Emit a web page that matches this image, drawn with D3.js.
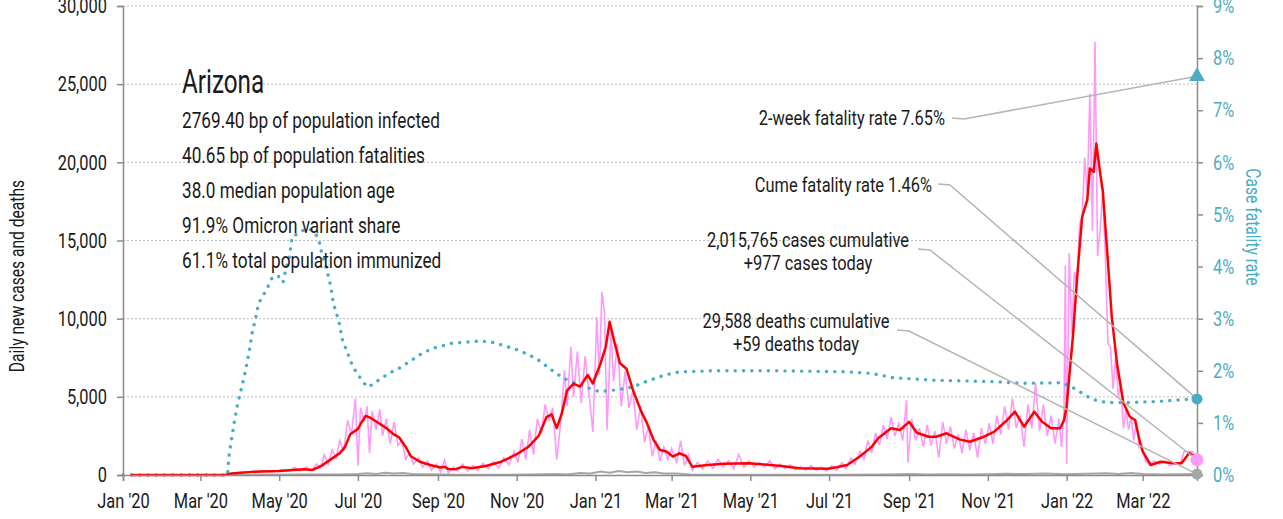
<!DOCTYPE html>
<html>
<head>
<meta charset="utf-8">
<script src="https://cdn.jsdelivr.net/npm/d3@7"></script>
<style>
  body { margin: 0; background: #fff; }
  svg text { font-family: "Liberation Sans Narrow", "Roboto", sans-serif; fill: #1a1a1a; }
</style>
</head>
<body>
<svg id="chart" width="1283" height="519"></svg>
<script>
// 7-day average of new cases (red)
const avgCases = [
  ["2020-01-07",0],["2020-03-20",0],["2020-03-25",100],["2020-04-10",200],["2020-05-01",250],
  ["2020-05-20",370],["2020-05-27",320],["2020-06-03",600],["2020-06-10",1000],["2020-06-17",1400],
  ["2020-06-21",1800],["2020-06-25",2600],["2020-07-01",2950],["2020-07-04",3400],["2020-07-07",3780],
  ["2020-07-11",3650],["2020-07-17",3330],["2020-07-23",3000],["2020-07-28",2650],["2020-08-02",2400],
  ["2020-08-07",1800],["2020-08-11",1200],["2020-08-18",850],["2020-08-26",640],["2020-09-03",480],
  ["2020-09-06",530],["2020-09-09",380],["2020-09-14",360],["2020-09-20",520],["2020-09-27",430],
  ["2020-10-08",580],["2020-10-20",850],["2020-10-31",1280],["2020-11-10",1800],["2020-11-18",2500],
  ["2020-11-24",3700],["2020-11-28",3880],["2020-12-02",3000],["2020-12-06",3950],["2020-12-10",5400],
  ["2020-12-15",5850],["2020-12-20",5650],["2020-12-26",6400],["2020-12-30",5850],["2021-01-05",7150],
  ["2021-01-09",8200],["2021-01-12",9800],["2021-01-16",8400],["2021-01-20",7150],["2021-01-25",6800],
  ["2021-01-30",5450],["2021-02-05",4150],["2021-02-10",3300],["2021-02-15",2250],["2021-02-20",1600],
  ["2021-02-25",1500],["2021-03-02",1180],["2021-03-07",1390],["2021-03-12",1220],["2021-03-17",530],
  ["2021-03-27",620],["2021-04-10",720],["2021-04-30",750],["2021-05-25",580],["2021-06-08",430],
  ["2021-06-30",400],["2021-07-07",500],["2021-07-15",640],["2021-07-25",1200],["2021-08-03",1800],
  ["2021-08-08",2350],["2021-08-18",2990],["2021-08-25",2880],["2021-09-01",3400],["2021-09-07",2700],
  ["2021-09-16",2450],["2021-09-22",2450],["2021-09-30",2670],["2021-10-10",2280],["2021-10-18",2130],
  ["2021-10-29",2450],["2021-11-06",2770],["2021-11-16",3520],["2021-11-22",4050],["2021-11-29",3090],
  ["2021-12-07",4050],["2021-12-13",3410],["2021-12-20",2990],["2021-12-27",2990],["2021-12-30",3500],
  ["2022-01-01",4400],["2022-01-04",7150],["2022-01-06",9000],["2022-01-09",12500],["2022-01-13",16500],
  ["2022-01-17",17600],["2022-01-19",19600],["2022-01-22",19400],["2022-01-24",21200],["2022-01-27",19300],
  ["2022-01-29",18200],["2022-02-01",14800],["2022-02-05",10100],["2022-02-09",7150],["2022-02-14",4600],
  ["2022-02-19",3730],["2022-02-23",3520],["2022-02-27",2030],["2022-03-01",1500],["2022-03-07",640],
  ["2022-03-15",850],["2022-03-25",750],["2022-03-31",750],["2022-04-06",1400],["2022-04-12",1070]
];

// daily new cases (pink)
const dailyCases = [
  ["2020-01-22",0],["2020-03-20",0],["2020-03-27",120],["2020-04-05",220],["2020-04-12",150],["2020-04-19",280],
  ["2020-04-26",200],["2020-05-03",330],["2020-05-08",250],["2020-05-13",480],["2020-05-17",260],["2020-05-22",520],
  ["2020-05-26",300],["2020-05-30",700],["2020-06-02",450],["2020-06-05",1300],["2020-06-08",700],["2020-06-11",1600],
  ["2020-06-14",1100],["2020-06-17",2200],["2020-06-20",1500],["2020-06-23",3500],["2020-06-26",2600],["2020-06-29",4900],
  ["2020-07-01",600],["2020-07-03",4300],["2020-07-06",3400],["2020-07-08",4400],["2020-07-10",1400],["2020-07-12",4100],
  ["2020-07-15",2900],["2020-07-18",4200],["2020-07-20",2500],["2020-07-23",3600],["2020-07-26",2000],["2020-07-29",3400],
  ["2020-08-01",1900],["2020-08-04",2200],["2020-08-07",1000],["2020-08-10",1400],["2020-08-13",700],["2020-08-17",1100],
  ["2020-08-20",500],["2020-08-24",900],["2020-08-27",300],["2020-08-31",700],["2020-09-03",200],["2020-09-06",950],
  ["2020-09-09",150],["2020-09-13",500],["2020-09-16",250],["2020-09-20",700],["2020-09-24",250],["2020-09-28",600],
  ["2020-10-02",300],["2020-10-06",750],["2020-10-10",400],["2020-10-14",850],["2020-10-18",450],["2020-10-22",1100],
  ["2020-10-26",650],["2020-10-30",1500],["2020-11-02",800],["2020-11-05",2300],["2020-11-08",1000],["2020-11-11",2900],
  ["2020-11-14",1300],["2020-11-17",3600],["2020-11-20",2700],["2020-11-23",4500],["2020-11-26",3500],["2020-11-29",4300],
  ["2020-12-02",1000],["2020-12-05",3300],["2020-12-08",6700],["2020-12-10",4400],["2020-12-13",8200],["2020-12-15",5000],
  ["2020-12-18",7900],["2020-12-21",4600],["2020-12-24",7600],["2020-12-27",5200],["2020-12-30",2750],["2021-01-02",10100],
  ["2021-01-04",6400],["2021-01-06",11700],["2021-01-08",10400],["2021-01-10",2900],["2021-01-13",9300],["2021-01-15",6000],
  ["2021-01-18",8400],["2021-01-21",4400],["2021-01-24",6600],["2021-01-27",4300],["2021-01-30",5400],["2021-02-02",2900],
  ["2021-02-05",4400],["2021-02-08",2100],["2021-02-11",3100],["2021-02-14",1200],["2021-02-17",2200],["2021-02-20",900],
  ["2021-02-23",1800],["2021-02-26",1000],["2021-03-01",1700],["2021-03-05",800],["2021-03-08",2200],["2021-03-11",600],
  ["2021-03-14",1300],["2021-03-17",300],["2021-03-21",800],["2021-03-25",400],["2021-03-29",900],["2021-04-02",400],
  ["2021-04-06",1000],["2021-04-10",500],["2021-04-14",900],["2021-04-18",400],["2021-04-22",1300],["2021-04-26",500],
  ["2021-04-30",900],["2021-05-04",500],["2021-05-08",800],["2021-05-12",500],["2021-05-16",900],["2021-05-20",400],
  ["2021-05-24",700],["2021-05-28",400],["2021-06-01",650],["2021-06-05",350],["2021-06-09",550],["2021-06-13",300],
  ["2021-06-17",600],["2021-06-21",300],["2021-06-25",500],["2021-06-29",250],["2021-07-03",600],["2021-07-07",300],
  ["2021-07-11",800],["2021-07-14",400],["2021-07-18",1100],["2021-07-21",700],["2021-07-25",1500],["2021-07-28",1000],
  ["2021-07-31",2200],["2021-08-03",1400],["2021-08-06",2700],["2021-08-09",1900],["2021-08-12",3200],["2021-08-15",2300],
  ["2021-08-18",3700],["2021-08-21",2500],["2021-08-24",3300],["2021-08-27",2200],["2021-08-30",4800],["2021-08-31",800],
  ["2021-09-03",3600],["2021-09-06",2200],["2021-09-09",3000],["2021-09-12",1800],["2021-09-15",3200],["2021-09-18",1900],
  ["2021-09-21",2800],["2021-09-24",1100],["2021-09-27",3400],["2021-09-30",2000],["2021-10-03",3100],["2021-10-06",1700],
  ["2021-10-09",2600],["2021-10-12",1400],["2021-10-15",2900],["2021-10-18",1600],["2021-10-21",2700],["2021-10-24",1100],
  ["2021-10-27",3000],["2021-10-30",2000],["2021-11-02",3300],["2021-11-05",2000],["2021-11-08",3800],["2021-11-11",2600],
  ["2021-11-14",4400],["2021-11-17",2900],["2021-11-20",4900],["2021-11-23",3000],["2021-11-26",3800],["2021-11-29",1800],
  ["2021-12-02",4500],["2021-12-05",3000],["2021-12-08",5900],["2021-12-11",2800],["2021-12-14",4500],["2021-12-17",2500],
  ["2021-12-20",3800],["2021-12-23",2000],["2021-12-26",3600],["2021-12-28",1800],["2021-12-30",4200],["2021-12-31",13400],
  ["2022-01-01",700],["2022-01-03",14200],["2022-01-05",9000],["2022-01-07",13000],["2022-01-09",12000],["2022-01-11",16000],
  ["2022-01-13",16500],["2022-01-15",20300],["2022-01-17",18000],["2022-01-19",24400],["2022-01-21",15600],["2022-01-23",27700],
  ["2022-01-25",14000],["2022-01-27",15700],["2022-01-29",18200],["2022-01-31",14000],["2022-02-02",8400],["2022-02-04",8200],
  ["2022-02-06",5500],["2022-02-08",7600],["2022-02-10",5000],["2022-02-12",5900],["2022-02-14",3000],["2022-02-16",4200],
  ["2022-02-18",2900],["2022-02-20",3700],["2022-02-22",2200],["2022-02-24",3500],["2022-02-26",1800],["2022-02-28",2000],
  ["2022-03-03",900],["2022-03-06",700],["2022-03-10",900],["2022-03-14",700],["2022-03-18",900],["2022-03-22",600],
  ["2022-03-26",800],["2022-03-30",700],["2022-04-02",1500],["2022-04-06",1500],["2022-04-09",1450],["2022-04-12",977]
];

// daily deaths (gray)
const dailyDeaths = [
  ["2020-01-07",0],["2020-03-20",0],["2020-04-15",15],["2020-05-15",25],["2020-06-15",35],["2020-07-01",60],
  ["2020-07-08",110],["2020-07-15",70],["2020-07-22",150],["2020-07-29",90],["2020-08-05",120],["2020-08-12",60],
  ["2020-08-25",50],["2020-09-15",20],["2020-10-15",15],["2020-11-10",30],["2020-12-01",70],["2020-12-10",40],
  ["2020-12-20",130],["2020-12-28",90],["2021-01-05",220],["2021-01-12",150],["2021-01-19",260],["2021-01-26",170],
  ["2021-02-02",230],["2021-02-09",130],["2021-02-16",170],["2021-02-23",90],["2021-03-05",100],["2021-03-15",40],
  ["2021-04-15",15],["2021-06-01",10],["2021-07-15",15],["2021-08-15",30],["2021-09-01",60],["2021-09-15",35],
  ["2021-10-01",55],["2021-10-15",40],["2021-11-01",50],["2021-11-15",80],["2021-12-01",60],["2021-12-15",90],
  ["2022-01-01",50],["2022-01-15",80],["2022-02-01",110],["2022-02-10",70],["2022-02-20",120],["2022-03-01",60],
  ["2022-03-15",40],["2022-04-12",59]
];

// case fatality rate, % (teal dotted)
const fatalityRate = [
  ["2020-01-01",0],["2020-03-22",0],["2020-03-23",0.35],["2020-03-27",0.99],["2020-03-30",1.38],["2020-04-02",1.69],
  ["2020-04-05",2.01],["2020-04-08",2.40],["2020-04-10",2.72],["2020-04-13",3.04],["2020-04-15",3.29],["2020-04-21",3.55],
  ["2020-04-26",3.81],["2020-05-01",3.81],["2020-05-04",3.70],["2020-05-06",3.93],["2020-05-09",4.19],["2020-05-11",4.57],
  ["2020-05-16",4.64],["2020-05-20",4.70],["2020-05-24",4.73],["2020-05-29",4.64],["2020-06-01",4.48],["2020-06-03",4.25],
  ["2020-06-07",3.93],["2020-06-10",3.61],["2020-06-12",3.29],["2020-06-16",2.97],["2020-06-19",2.59],["2020-06-23",2.34],
  ["2020-06-27",2.08],["2020-07-02",1.89],["2020-07-08",1.69],["2020-07-12",1.73],["2020-07-17",1.82],["2020-07-25",1.95],
  ["2020-08-02",2.05],["2020-08-12",2.21],["2020-08-20",2.34],["2020-08-28",2.43],["2020-09-12",2.53],["2020-10-03",2.57],
  ["2020-10-11",2.56],["2020-10-21",2.49],["2020-11-03",2.39],["2020-11-16",2.24],["2020-11-26",2.05],["2020-12-07",1.86],
  ["2020-12-19",1.73],["2021-01-04",1.60],["2021-01-19",1.64],["2021-01-30",1.69],["2021-02-09",1.79],["2021-02-24",1.92],
  ["2021-03-07",1.98],["2021-04-01",2.00],["2021-05-23",2.00],["2021-07-14",1.98],["2021-08-03",1.95],["2021-08-19",1.87],
  ["2021-09-19",1.82],["2021-11-07",1.79],["2021-11-27",1.76],["2021-12-28",1.77],["2022-01-05",1.69],["2022-01-13",1.57],
  ["2022-01-21",1.45],["2022-02-01",1.39],["2022-02-16",1.39],["2022-03-11",1.41],["2022-04-03",1.45],["2022-04-12",1.46]
];

const stateName = "Arizona";
const statLines = [
  "2769.40 bp of population infected",
  "40.65 bp of population fatalities",
  "38.0 median population age",
  "91.9% Omicron variant share",
  "61.1% total population immunized"
];

// latest values shown at the right edge
const lastDate = "2022-04-12";
const twoWeekRate = 7.65, cumeRate = 1.46;
const casesCum = 2015765, casesToday = 977;
const deathsCum = 29588, deathsToday = 59;

const leftTicks = [0, 5000, 10000, 15000, 20000, 25000, 30000];
const rightTicks = [0, 1, 2, 3, 4, 5, 6, 7, 8, 9];

const parse = d3.timeParse("%Y-%m-%d");
const width = 1283, height = 519;
const margin = { top: 6, right: 86, bottom: 44, left: 123 };

const svg = d3.select("#chart");

// font is narrower in the original; squeeze horizontally to match
const probe = svg.append("text").style("font-size", "22px").text(statLines[0]);
const k = 258 / probe.node().getComputedTextLength();
probe.remove();

const x = d3.scaleTime()
  .domain([parse("2020-01-01"), parse(lastDate)])
  .range([margin.left, width - margin.right]);
const y = d3.scaleLinear().domain([0, 30000]).range([height - margin.bottom, margin.top]);
const yRate = d3.scaleLinear().domain([0, 9]).range([height - margin.bottom, margin.top]);

// grid
svg.append("g").selectAll("line")
  .data(leftTicks.slice(1))
  .join("line")
  .attr("x1", margin.left).attr("x2", width - margin.right)
  .attr("y1", d => y(d)).attr("y2", d => y(d))
  .attr("stroke", "#bdbdbd").attr("stroke-dasharray", "2,2");

const line = d3.line().x(d => x(parse(d[0]))).y(d => y(d[1]));
const rateLine = d3.line().x(d => x(parse(d[0]))).y(d => yRate(d[1]));

svg.append("path").datum(dailyCases).attr("d", line)
  .attr("fill", "none").attr("stroke", "#ff99f8").attr("stroke-width", 1.6);

svg.append("path").datum(fatalityRate).attr("d", rateLine)
  .attr("fill", "none").attr("stroke", "#4bacc6").attr("stroke-width", 3.4)
  .attr("stroke-linecap", "round").attr("stroke-dasharray", "0.1 8.2");

svg.append("path").datum(dailyDeaths).attr("d", line)
  .attr("fill", "none").attr("stroke", "#a6a6a6").attr("stroke-width", 2);

svg.append("path").datum(avgCases).attr("d", line)
  .attr("fill", "none").attr("stroke", "#ff0000").attr("stroke-width", 2.5)
  .attr("stroke-linejoin", "round");

// axes
function squeeze(g, dx) {
  g.selectAll(".tick text")
    .attr("transform", `scale(${k},1)`)
    .attr("x", dx / k)
    .style("font-size", "21px");
  g.selectAll("path, line").attr("stroke", "#8c8c8c").attr("stroke-width", 1.5);
}

const xAxis = svg.append("g")
  .attr("transform", `translate(0,${height - margin.bottom})`)
  .call(d3.axisBottom(x).ticks(d3.timeMonth.every(2)).tickFormat(d3.timeFormat("%b '%y"))
    .tickSizeOuter(0).tickSize(6).tickPadding(12));
squeeze(xAxis, 0);
xAxis.selectAll(".tick text").attr("fill", "#1a1a1a");

const yAxis = svg.append("g")
  .attr("transform", `translate(${margin.left},0)`)
  .call(d3.axisLeft(y).tickValues(leftTicks).tickFormat(d3.format(",")).tickSizeOuter(0).tickSize(6).tickPadding(10));
squeeze(yAxis, -16);
yAxis.selectAll(".tick text").attr("fill", "#1a1a1a");

const rAxis = svg.append("g")
  .attr("transform", `translate(${width - margin.right},0)`)
  .call(d3.axisRight(yRate).tickValues(rightTicks).tickFormat(d => d + "%").tickSizeOuter(0).tickSize(6).tickPadding(10));
squeeze(rAxis, 16);
rAxis.selectAll(".tick text").style("fill", "#4bacc6");

// axis titles
svg.append("text")
  .attr("transform", `translate(17,276) rotate(-90) scale(${k},1)`)
  .attr("text-anchor", "middle").attr("dy", "0.35em")
  .style("font-size", "20px").text("Daily new cases and deaths");
svg.append("text")
  .attr("transform", `translate(1253,227) rotate(90) scale(${k},1)`)
  .attr("text-anchor", "middle").attr("dy", "0.35em")
  .style("font-size", "20px").style("fill", "#4bacc6").text("Case fatality rate");

// title block
svg.append("text")
  .attr("transform", `translate(182,93) scale(${k * 0.94},1)`)
  .style("font-size", "33px").text(stateName);
svg.append("g").selectAll("text")
  .data(statLines)
  .join("text")
  .attr("transform", (d, i) => `translate(182,${128 + i * 35}) scale(${k},1)`)
  .style("font-size", "22px").text(d => d);

// end markers
const xEnd = x(parse(lastDate));
const fmt = d3.format(",");
const markers = [
  { yv: yRate(twoWeekRate), shape: "tri", color: "#4bacc6" },
  { yv: yRate(cumeRate), shape: "circle", color: "#4bacc6", r: 5.5 },
  { yv: y(casesToday), shape: "circle", color: "#ff99f8", r: 6.5 },
  { yv: y(deathsToday), shape: "circle", color: "#a6a6a6", r: 5.5 }
];

// annotations with leader lines
const notes = [
  { lines: [`2-week fatality rate ${twoWeekRate.toFixed(2)}%`], tx: 945, ty: 118, anchor: "end", lx: 952, ly: 118, m: 0 },
  { lines: [`Cume fatality rate ${cumeRate.toFixed(2)}%`], tx: 932, ty: 185, anchor: "end", lx: 938, ly: 184, m: 1 },
  { lines: [`${fmt(casesCum)} cases cumulative`, `+${fmt(casesToday)} cases today`], tx: 808, ty: 240, anchor: "middle", lx: 918, ly: 249, m: 2 },
  { lines: [`${fmt(deathsCum)} deaths cumulative`, `+${fmt(deathsToday)} deaths today`], tx: 796, ty: 321, anchor: "middle", lx: 897, ly: 330, m: 3 }
];

notes.forEach(n => {
  const target = markers[n.m];
  svg.append("polyline")
    .attr("points", `${n.lx},${n.ly} ${n.lx + 12},${n.ly + 1} ${xEnd},${target.yv}`)
    .attr("fill", "none").attr("stroke", "#b5b5b5").attr("stroke-width", 1.5);
  n.lines.forEach((t, i) => {
    svg.append("text")
      .attr("transform", `translate(${n.tx},${n.ty + i * 23}) scale(${k},1)`)
      .attr("text-anchor", n.anchor).attr("dy", "0.35em")
      .style("font-size", "21px").text(t);
  });
});

markers.forEach(m => {
  if (m.shape === "tri") {
    svg.append("path")
      .attr("d", d3.symbol(d3.symbolTriangle, 110)())
      .attr("transform", `translate(${xEnd},${m.yv})`)
      .attr("fill", m.color);
  } else {
    svg.append("circle").attr("cx", xEnd).attr("cy", m.yv).attr("r", m.r).attr("fill", m.color);
  }
});
</script>
</body>
</html>
